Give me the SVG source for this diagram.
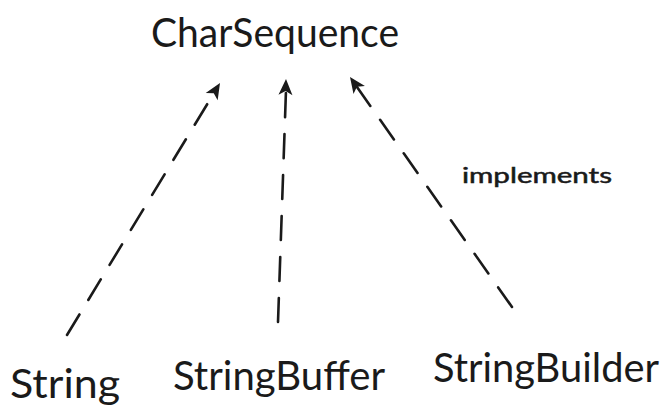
<svg xmlns="http://www.w3.org/2000/svg" width="663" height="407" viewBox="0 0 663 407">
  <style>
    .lbl { font-family: Lato, "Open Sans", "Liberation Sans", sans-serif; fill: #1a1a1a; }
    .big { font-size: 40px; }
    .tag { font-size: 21px; stroke: #1a1a1a; stroke-width: 0.5; }
    .dep { fill: none; stroke: #1a1a1a; stroke-width: 2.6; stroke-dasharray: 24 17; stroke-linecap: round; }
    .tip { fill: #1a1a1a; }
  </style>
  <defs>
    <!-- filled arrowhead, tip at the origin, pointing along +x -->
    <path id="head" d="M0,0 L-16,-7 L-12,0 L-16,7 Z"/>
  </defs>
  <rect width="663" height="407" fill="#ffffff"/>

  <g id="connectors">
    <line class="dep" x1="67" y1="335" x2="214" y2="93"/>
    <use class="tip" href="#head" transform="translate(220,83) rotate(-58.7)"/>
    <line class="dep" x1="278" y1="322" x2="286" y2="90"/>
    <use class="tip" href="#head" transform="translate(286,79) rotate(-88.1)"/>
    <line class="dep" x1="512" y1="307" x2="357" y2="87"/>
    <use class="tip" href="#head" transform="translate(350,77) rotate(-125.2)"/>
    <text class="lbl tag" x="462" y="183" textLength="150" lengthAdjust="spacingAndGlyphs">implements</text>
  </g>

  <g id="charsequence">
    <text class="lbl big" x="151" y="47" textLength="248" lengthAdjust="spacingAndGlyphs">CharSequence</text>
  </g>
  <g id="string">
    <text class="lbl big" x="10" y="398" textLength="110" lengthAdjust="spacingAndGlyphs">String</text>
  </g>
  <g id="stringbuffer">
    <text class="lbl big" x="173" y="390" textLength="212" lengthAdjust="spacingAndGlyphs">StringBuffer</text>
  </g>
  <g id="stringbuilder">
    <text class="lbl big" x="433" y="382" textLength="226" lengthAdjust="spacingAndGlyphs">StringBuilder</text>
  </g>
</svg>
